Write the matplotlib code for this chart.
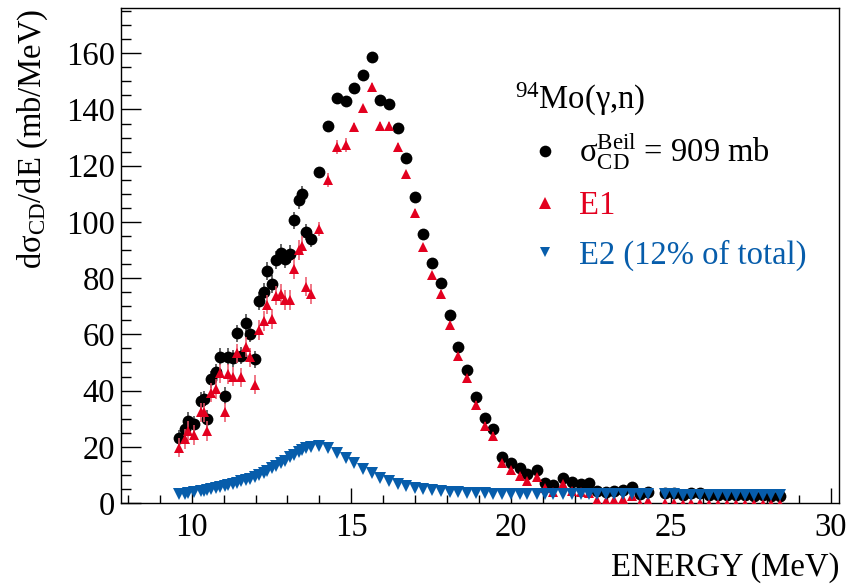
import matplotlib
matplotlib.use("Agg")
import matplotlib.pyplot as plt
from matplotlib.lines import Line2D
from matplotlib.ticker import MultipleLocator

# photon energy of each point (MeV)
energy = [9.62, 9.78, 9.88, 10.09, 10.30, 10.38, 10.48, 10.62, 10.77, 10.88,
          11.03, 11.14, 11.29, 11.42, 11.56, 11.69, 11.84, 11.97, 12.11, 12.25,
          12.36, 12.51, 12.65, 12.79, 12.91, 13.07, 13.19, 13.35, 13.45, 13.59,
          13.75, 14.00, 14.27, 14.55, 14.82, 15.08, 15.37, 15.63, 15.91, 16.18,
          16.46, 16.72, 16.98, 17.24, 17.53, 17.80, 18.09, 18.34, 18.63, 18.90,
          19.18, 19.44, 19.72, 19.99, 20.27, 20.51, 20.80, 21.06, 21.32, 21.61,
          21.89, 22.17, 22.44, 22.70, 22.96, 23.22, 23.50, 23.77, 24.03, 24.29,
          24.81, 25.09, 25.37, 25.64, 25.92, 26.20, 26.48, 26.76, 27.03, 27.31,
          27.59, 27.87, 28.14, 28.42]

# total Coulomb dissociation cross section (mb/MeV)
total = [23.1, 26.3, 29.2, 28.0, 36.4, 37.0, 30.0, 44.0, 46.5, 52.0,
         38.2, 52.0, 51.5, 60.4, 52.4, 64.0, 60.2, 51.2, 72.0, 75.2,
         82.5, 78.0, 86.5, 88.9, 86.9, 88.7, 100.6, 107.7, 109.8, 96.4,
         94.0, 117.7, 134.2, 144.2, 143.0, 147.5, 152.4, 158.6, 143.4, 141.9,
         133.3, 122.9, 108.7, 95.6, 85.3, 78.4, 66.9, 55.4, 47.4, 37.8,
         30.2, 26.5, 16.5, 14.4, 12.4, 10.2, 11.7, 7.2, 6.4, 9.0,
         7.5, 6.6, 7.0, 4.2, 4.0, 4.3, 4.6, 5.8, 3.3, 4.0,
         3.6, 3.4, 3.0, 3.4, 3.5, 2.8, 2.8, 3.0, 2.7, 2.8,
         2.6, 2.9, 2.6, 2.5]
total_err = [3.0, 3.0, 3.0, 3.0, 3.0, 3.0, 3.0, 3.0, 3.0, 3.0,
             3.0, 3.0, 3.0, 3.0, 3.0, 3.2, 3.0, 3.0, 3.2, 3.2,
             3.2, 3.2, 3.2, 3.2, 3.2, 3.2, 3.0, 3.0, 3.0, 3.0,
             3.0, 2.0, 1.5, 1.3, 1.3, 1.3, 1.0, 1.0, 1.0, 1.0,
             1.0, 1.0, 1.0, 1.0, 1.0, 1.0, 1.0, 1.0, 1.0, 1.0,
             1.0, 1.0, 0.8, 0.8, 0.8, 0.8, 0.8, 0.8, 0.8, 0.8,
             0.8, 0.8, 0.8, 0.8, 0.8, 0.8, 0.8, 0.8, 0.8, 0.8,
             0.8, 0.8, 0.8, 0.8, 0.8, 0.8, 0.8, 0.8, 0.8, 0.8,
             0.8, 0.8, 0.8, 0.8]

# E1 component
e1 = [19.7, 22.7, 25.7, 24.3, 32.2, 32.2, 25.7, 39.3, 40.5, 46.1,
      32.2, 45.9, 45.0, 53.2, 44.7, 55.6, 51.8, 42.1, 61.6, 64.7,
      70.6, 65.5, 73.8, 74.4, 72.3, 72.3, 83.3, 89.9, 91.6, 77.0,
      74.4, 97.6, 114.8, 126.7, 127.3, 133.6, 140.4, 148.1, 134.2, 134.2,
      126.7, 117.0, 103.3, 91.0, 81.0, 74.4, 63.5, 52.2, 44.5, 35.0,
      27.5, 23.9, 14.2, 11.7, 9.6, 7.8, 9.3, 5.5, 3.9, 6.7,
      4.3, 3.8, 3.6, 1.0, 0.8, 1.1, 1.5, 2.6, -0.2, 0.8,
      0.1, 0.1, -0.3, 0.1, 0.0, -0.5, -0.5, -0.3, -0.5, -0.5,
      -0.5, -0.3, -0.5, -0.4]
e1_err = [3.5, 3.5, 3.5, 3.5, 3.5, 3.5, 3.5, 3.5, 3.5, 3.5,
          3.5, 3.5, 3.5, 3.5, 3.5, 3.5, 3.5, 3.5, 3.5, 3.5,
          3.5, 3.5, 3.5, 3.5, 3.5, 3.5, 3.5, 3.5, 3.5, 3.5,
          3.5, 2.5, 2.5, 2.5, 2.5, 1.5, 1.2, 1.2, 1.2, 1.2,
          1.2, 1.2, 1.2, 1.2, 1.2, 1.2, 1.2, 1.2, 1.2, 1.2,
          1.2, 1.2, 1.0, 1.0, 1.0, 1.0, 1.0, 1.0, 1.0, 1.0,
          1.0, 1.0, 1.0, 1.0, 1.0, 1.0, 1.0, 1.0, 1.0, 1.0,
          1.0, 1.0, 1.0, 1.0, 1.0, 1.0, 1.0, 1.0, 1.0, 1.0,
          1.0, 1.0, 1.0, 1.0]

# E2 component
e2 = [3.1, 3.3, 3.5, 3.8, 4.2, 4.4, 4.6, 4.9, 5.3, 5.6,
      6.0, 6.3, 6.8, 7.2, 7.7, 8.2, 8.6, 9.1, 9.9, 10.7,
      11.4, 12.3, 13.2, 14.2, 15.1, 16.2, 17.1, 18.1, 18.7, 19.5,
      20.1, 20.3, 19.4, 17.8, 16.0, 14.2, 12.2, 10.5, 9.0, 7.9,
      6.9, 6.1, 5.5, 5.0, 4.6, 4.3, 4.0, 3.8, 3.6, 3.5,
      3.4, 3.3, 3.2, 3.2, 3.1, 3.1, 3.1, 3.1, 3.1, 3.1,
      3.1, 3.1, 3.1, 3.1, 3.1, 3.1, 3.1, 3.1, 3.1, 3.1,
      3.1, 3.1, 3.0, 3.0, 3.0, 3.0, 3.0, 3.0, 3.0, 3.0,
      3.0, 3.0, 3.0, 3.0]

RED = '#e3001f'
BLUE = '#075dab'

plt.rcParams['font.family'] = ['Liberation Serif', 'DejaVu Serif']
plt.rcParams['mathtext.fontset'] = 'custom'
plt.rcParams['mathtext.rm'] = 'Liberation Serif'
plt.rcParams['mathtext.it'] = 'Liberation Serif:italic'
plt.rcParams['mathtext.bf'] = 'Liberation Serif:bold'

fig = plt.figure(figsize=(8.5, 5.87), dpi=100)
ax = fig.add_axes([0.1427, 0.1431, 0.8444, 0.8428])

ax.errorbar(energy, total, yerr=total_err, fmt='o', color='black', ms=8.5, mew=0,
            ecolor='#3c3c3c', elinewidth=1.1, capsize=2.5, capthick=1.1, zorder=2)
ax.errorbar(energy, e1, yerr=e1_err, fmt='^', color=RED, ms=7.8, mew=0,
            ecolor='#ec5266', elinewidth=1.1, capsize=2.5, capthick=1.1, zorder=3)
ax.plot(energy, e2, 'v', color=BLUE, ms=8.2, mew=0, ls='none', zorder=4)

ax.set_xlim(7.8, 30.26)
ax.set_ylim(0, 176)
ax.xaxis.set_major_locator(MultipleLocator(5))
ax.xaxis.set_minor_locator(MultipleLocator(1))
ax.yaxis.set_major_locator(MultipleLocator(20))
ax.yaxis.set_minor_locator(MultipleLocator(5))
ax.tick_params(which='both', direction='in', top=False, right=False,
               width=1.0, labelsize=23.5)
ax.tick_params(axis='x', which='major', length=11, pad=7)
ax.tick_params(axis='x', which='minor', length=6)
ax.tick_params(axis='y', which='major', length=14.5, pad=4.5)
ax.tick_params(axis='y', which='minor', length=7.2)
for sp in ax.spines.values():
    sp.set_linewidth(1.0)

ax.set_xlabel('ENERGY (MeV)', fontsize=23.5, loc='right')
ax.set_ylabel(r'd$\mathrm{\sigma}_{\mathrm{CD}}$/dE (mb/MeV)', fontsize=23.5, loc='top')
ax.xaxis.set_label_coords(1.0, -0.10)
ax.yaxis.set_label_coords(-0.100, 1.0)

ax.text(0.5486, 0.797, r'$^{94}$Mo(γ,n)', transform=ax.transAxes, fontsize=23.5,
        ha='left', va='baseline')

handles = [
    Line2D([], [], marker='o', color='black', ms=8.4, mew=0, ls='none'),
    Line2D([], [], marker='^', color=RED, ms=8, mew=0, ls='none'),
    Line2D([], [], marker='v', color=BLUE, ms=7, mew=0, ls='none'),
]
labels = [r'$\mathrm{\sigma}^{\mathrm{Beil}}_{\mathrm{CD}}$ = 909 mb', 'E1', 'E2 (12% of total)']
leg = ax.legend(handles, labels, loc='upper left', bbox_to_anchor=(0.572, 0.75),
                frameon=False, fontsize=23.5, handlelength=0.8, handletextpad=0.65,
                labelspacing=0.56, borderaxespad=0, borderpad=0)
txts = leg.get_texts()
txts[1].set_color(RED)
txts[2].set_color(BLUE)

fig.savefig('out.png', dpi=100)
